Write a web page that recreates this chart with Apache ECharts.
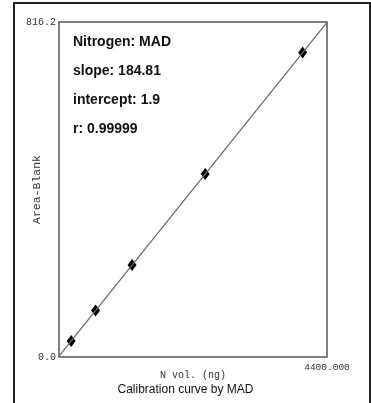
<!DOCTYPE html>
<html>
<head>
<meta charset="utf-8">
<script src="https://cdn.jsdelivr.net/npm/echarts@6/dist/echarts.min.js"></script>
<style>
  html, body { margin: 0; padding: 0; background: #fff; }
  #main { width: 371px; height: 403px; }
</style>
</head>
<body>
<div id="main"></div>
<script>
// standards: N vol. (ng) vs Area-Blank
var nVol = [200, 600, 1200, 2400, 4000];
var areaBlank = [39, 113, 224, 446, 742];
// fitted line ends (slope 184.81 per 1000 ng, intercept 1.9)
var fitX = [0, 4400];
var fitY = [1.9, 815.1];
var yMax = 816.2;
var xMax = 4400;
var notes = ['Nitrogen: MAD', 'slope: 184.81', 'intercept: 1.9', 'r: 0.99999'];

var chart = echarts.init(document.getElementById('main'));

var monoLabel = { fontFamily: 'Liberation Mono', fontSize: 10, color: '#333' };

var noteTexts = notes.map(function (t, i) {
    return {
        type: 'text',
        left: 73,
        top: 35 + i * 29,
        style: { text: t, font: 'bold 14px "Liberation Sans"', fill: '#111' }
    };
});

var option = {
    animation: false,
    grid: {
        left: 59, right: 44, top: 22, bottom: 46,
        outerBoundsMode: 'none',
        show: true, borderColor: '#555', borderWidth: 1.5
    },
    xAxis: {
        type: 'value',
        min: 0, max: xMax, interval: xMax,
        name: 'N vol. (ng)',
        nameLocation: 'middle',
        nameGap: 13,
        nameMoveOverlap: false,
        nameTextStyle: { fontFamily: 'Liberation Mono', fontSize: 10, color: '#333' },
        axisLine: { show: false },
        axisTick: { show: false },
        splitLine: { show: false },
        axisLabel: Object.assign({
            margin: 5,
            showMinLabel: true, showMaxLabel: true,
            formatter: function (v) { return v === 0 ? '' : v.toFixed(3); }
        }, monoLabel, { fontSize: 9.5 })
    },
    yAxis: {
        type: 'value',
        min: 0, max: yMax, interval: yMax,
        name: 'Area-Blank',
        nameLocation: 'middle',
        nameGap: 16,
        nameMoveOverlap: false,
        nameTextStyle: { fontFamily: 'Liberation Mono', fontSize: 11.5, color: '#333' },
        axisLine: { show: false },
        axisTick: { show: false },
        splitLine: { show: false },
        axisLabel: Object.assign({
            margin: 3,
            showMinLabel: true, showMaxLabel: true,
            formatter: function (v) { return v.toFixed(1); }
        }, monoLabel)
    },
    series: [
        {
            type: 'line',
            data: fitX.map(function (x, i) { return [x, fitY[i]]; }),
            symbol: 'none',
            lineStyle: { color: '#666', width: 1.2 },
            silent: true
        },
        {
            type: 'scatter',
            data: nVol.map(function (x, i) { return [x, areaBlank[i]]; }),
            symbol: 'diamond',
            symbolSize: [9, 12],
            itemStyle: { color: '#000', opacity: 1 }
        }
    ],
    graphic: [
        {
            type: 'rect',
            shape: { x: 14, y: 3, width: 356, height: 420 },
            style: { fill: 'none', stroke: '#222', lineWidth: 2 },
            silent: true
        },
        {
            type: 'text',
            left: 'center',
            top: 384,
            style: { text: 'Calibration curve by MAD', font: '12px "Liberation Sans"', fill: '#111', x: 6 }
        }
    ].concat(noteTexts)
};

chart.setOption(option);
</script>
</body>
</html>
